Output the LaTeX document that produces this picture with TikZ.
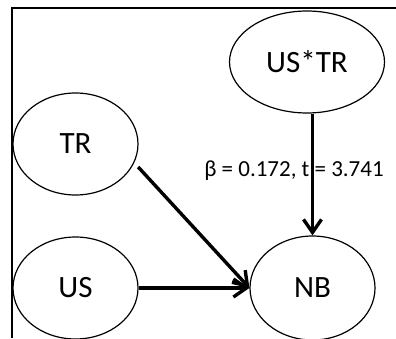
\documentclass[tikz,border=0pt]{standalone}
\usepackage{fontspec}
\setmainfont{Carlito}
\usetikzlibrary{arrows.meta,shapes.geometric}
\begin{document}
\begin{tikzpicture}[x=1pt,y=1pt,
  var/.style={draw, ellipse, line width=1.2pt, inner sep=0pt,
    minimum width=125pt, minimum height=102pt,
    font=\fontsize{31}{36}\selectfont},
  path arrow/.style={line width=3.4pt,
    -{Straight Barb[length=13pt,width=18pt,line width=3.4pt]}},
  frame/.style={line width=2pt}
]
\useasboundingbox (0,0) rectangle (396,338);
% frame lines along top and left
\draw[frame] (12,0) -- (12,329.5) -- (397,329.5);

% latent variables
\node[var, minimum width=155pt] (ustr) at (307,276) {US*TR};
\node[var] (tr) at (75.5,194) {TR};
\node[var] (us) at (75.5,50) {US};
\node[var, minimum height=104pt] (nb) at (312.5,50) {NB};

% path coefficient of the interaction term
\node[font=\fontsize{23}{27}\selectfont, inner sep=0pt, anchor=base] (coef)
  at (294,162) {β = 0.172, t = 3.741};

% structural paths
\draw[path arrow] (nb.north |- ustr.south) -- (nb.north);
\draw[path arrow] ([shift={(5pt,-2pt)}]tr.-20) -- (nb.west);
\draw[path arrow] (us.east) -- (nb.west);
\end{tikzpicture}
\end{document}
